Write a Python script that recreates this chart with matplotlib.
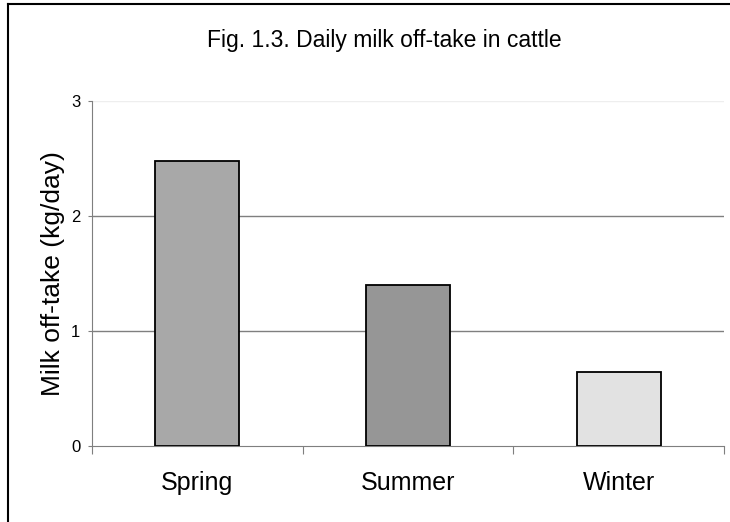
import matplotlib.pyplot as plt
from matplotlib.lines import Line2D
import numpy as np

plt.rcParams['font.family'] = ['Liberation Sans', 'DejaVu Sans']

seasons = ["Spring", "Summer", "Winter"]
milk = [2.48, 1.40, 0.64]
bar_colors = ["#a8a8a8", "#969696", "#e2e2e2"]
yticks = [0, 1, 2, 3]

fig = plt.figure(figsize=(7.3, 5.22), dpi=100)
ax = fig.add_axes([92/730, 1 - 445.7/522, (724-92)/730, (445.7-100.7)/522])

x = np.arange(len(seasons))
ax.bar(x, milk, width=0.4, color=bar_colors, edgecolor="black", linewidth=1.3, zorder=3)

# gridlines (top one is barely visible)
for yv in yticks[1:]:
	c = "#eeeeee" if yv == 3 else "#7f7f7f"
	ax.axhline(yv, color=c, linewidth=1.0, zorder=1)

ax.set_xlim(-0.5, len(seasons) - 0.5)
ax.set_ylim(0, 3)
ax.set_yticks(yticks)
ax.set_yticklabels([str(v) for v in yticks], fontsize=12)
ax.set_xticks(np.arange(len(seasons) + 1) - 0.5)
ax.set_xticklabels([])
ax.set_xticks(x, minor=True)
ax.set_xticklabels(seasons, minor=True, fontsize=18)
ax.tick_params(axis="x", which="minor", length=0, pad=18)
ax.tick_params(axis="x", which="major", length=5.5, color="#7f7f7f", direction="out")
ax.tick_params(axis="y", length=3, color="#7f7f7f", direction="out", pad=5.5)

for s in ["top", "right"]:
	ax.spines[s].set_visible(False)
ax.spines["left"].set_color("#7f7f7f")
ax.spines["bottom"].set_color("#7f7f7f")

ax.set_ylabel("Milk off-take (kg/day)", fontsize=19, labelpad=4)

# title centred on the whole chart area (its right edge is cut off)
fig.text(384/730, 1 - 41/522, "Fig. 1.3. Daily milk off-take in cattle", ha="center", va="center", fontsize=16.5)

# chart border (left and top edges visible)
fig.add_artist(Line2D([8/730, 8/730], [0, 1 - 4/522], color="black", linewidth=1.5, transform=fig.transFigure))
fig.add_artist(Line2D([8/730, 1], [1 - 4/522, 1 - 4/522], color="black", linewidth=1.5, transform=fig.transFigure))

fig.savefig("out.png", dpi=100)
